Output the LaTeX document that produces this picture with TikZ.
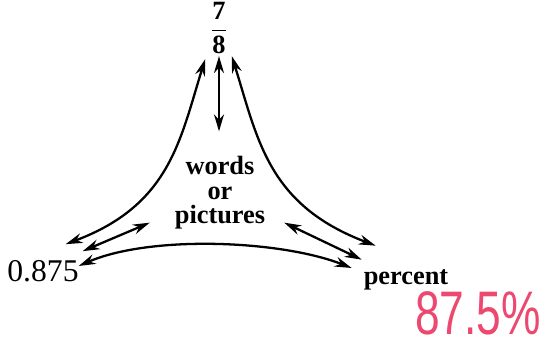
\documentclass[tikz,border=0pt]{standalone}
\usepackage{fontspec}
\setmainfont{Liberation Serif}
\newfontfamily\handfont{Liberation Sans}
\usetikzlibrary{arrows.meta}
\definecolor{penpink}{RGB}{236,72,112}

\begin{document}
\begin{tikzpicture}[
  x=0.02cm, y=-0.02cm,
  lbl/.style={inner sep=1pt, align=center, font=\fontsize{15}{14}\selectfont\bfseries},
  numtxt/.style={inner sep=1pt, font=\fontsize{18}{20}\selectfont},
  hand/.style={inner sep=0pt, text=penpink, font=\fontsize{35}{36}\handfont},
  arr/.style={{Stealth[length=0.34cm,width=0.2cm]}-{Stealth[length=0.34cm,width=0.2cm]}, line width=1.3pt}
]
\useasboundingbox (0,0) rectangle (552,345);
\node[inner sep=1pt, font=\fontsize{15}{16}\selectfont\bfseries] (frac) at (219,28) {$\displaystyle\frac{\mbox{7}}{\mbox{8}}$};
\node[lbl] (words) at (220,193) {words\\or\\pictures};
\node[numtxt] (dec) at (43,271) {0.875};
\node[lbl] (pct) at (406,280) {percent};
\node[hand] (hw) at (478,313) {\scalebox{0.72}[1]{87.5\%}};
\draw[arr, shorten >=0.46cm] (frac.south) -- (frac.south |- words.north);
\draw[arr] ([shift={(-3,3)}]frac.south west) .. controls (180,140) and (170,205) .. ([shift={(-15,-14)}]dec.north east);
\draw[arr] ([shift={(2,0)}]frac.south east) .. controls (258,140) and (268,205) .. ([shift={(14,-22)}]pct.north west);
\draw[arr] ([shift={(-23,-9)}]words.south west) -- ([shift={(2,-7)}]dec.north east);
\draw[arr] ([shift={(17,-9)}]words.south east) -- ([shift={(0,-8)}]pct.north west);
\draw[arr] ([shift={(-2,-5)}]dec.east) .. controls (150,235) and (280,240) .. ([shift={(-10,-12)}]pct.west);
\end{tikzpicture}
\end{document}
